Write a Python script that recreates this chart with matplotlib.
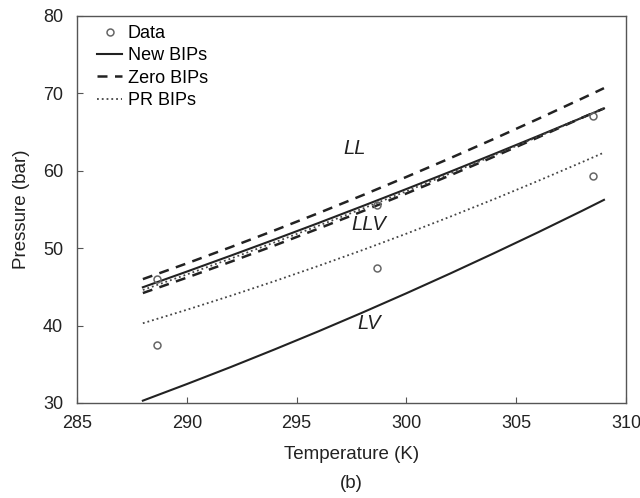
import matplotlib
matplotlib.use("Agg")
import matplotlib.pyplot as plt

plt.rcParams['font.family'] = ['Liberation Sans', 'DejaVu Sans']

T = [288, 290, 292, 294, 296, 298, 300, 302, 304, 306, 308, 309]

new_llv = [44.95, 46.97, 49.03, 51.12, 53.25, 55.43, 57.64, 59.88, 62.17, 64.49, 66.85, 68.05]
new_lv = [30.3, 32.44, 34.64, 36.92, 39.26, 41.68, 44.17, 46.73, 49.36, 52.05, 54.82, 56.24]
zero_upper = [46.0, 48.03, 50.13, 52.30, 54.53, 56.83, 59.20, 61.63, 64.13, 66.70, 69.33, 70.67]
zero_lower = [44.2, 46.19, 48.24, 50.35, 52.53, 54.76, 57.06, 59.41, 61.83, 64.31, 66.85, 68.05]
pr_upper = [44.6, 46.6, 48.65, 50.75, 52.9, 55.1, 57.35, 59.65, 62.0, 64.4, 66.85, 68.05]
pr_lower = [40.3, 42.04, 43.85, 45.74, 47.71, 49.75, 51.87, 54.07, 56.34, 58.69, 61.11, 62.35]

data_T = [288.66, 288.66, 298.65, 298.65, 308.5, 308.5]
data_P = [46.0, 37.5, 55.6, 47.4, 67.1, 59.3]

fig = plt.figure(figsize=(6.4, 4.98), dpi=100)
ax = fig.add_axes([0.1203, 0.1908, 0.8577, 0.7772])

lc = '#222222'
ax.plot(data_T, data_P, 'o', ms=5, mfc='none', mec='#666666', mew=1.1, label='Data', zorder=5)
ax.plot(T, new_llv, '-', color=lc, lw=1.5, label='New BIPs')
ax.plot(T, zero_upper, '--', color=lc, lw=1.8, dashes=(4, 3), label='Zero BIPs')
ax.plot(T, pr_lower, ':', color='#444444', lw=1.3, label='PR BIPs')
ax.plot(T, new_lv, '-', color=lc, lw=1.5)
ax.plot(T, zero_lower, '--', color=lc, lw=1.8, dashes=(4, 3))
ax.plot(T, pr_upper, ':', color='#444444', lw=1.3)

ax.set_xlim(285, 310)
ax.set_ylim(30, 80)
ax.set_xticks([285, 290, 295, 300, 305, 310])
ax.set_yticks([30, 40, 50, 60, 70, 80])
ax.tick_params(direction='in', length=4, labelsize=13, color='#555555', labelcolor='#222222')
ax.tick_params(axis='y', pad=10)
ax.tick_params(axis='x', pad=9)
for s in ax.spines.values():
    s.set_color('#555555')
    s.set_linewidth(1.0)

ax.text(297.66, 62.9, 'LL', fontsize=14.5, style='italic', ha='center', va='center', color='#222222')
ax.text(298.3, 53.1, 'LLV', fontsize=14.5, style='italic', ha='center', va='center', color='#222222')
ax.text(298.3, 40.3, 'LV', fontsize=14.5, style='italic', ha='center', va='center', color='#222222')

ax.set_xlabel('Temperature (K)', fontsize=13.5, color='#222222', labelpad=10)
ax.set_ylabel('Pressure (bar)', fontsize=13.5, color='#222222', labelpad=9)
fig.text(0.5 * (0.1203 + 0.978), 1 - 483 / 498, '(b)', fontsize=13.5, ha='center', va='center', color='#222222')

leg = ax.legend(loc='upper left', frameon=False, fontsize=13, handlelength=1.4,
                handletextpad=0.3, labelspacing=0.3, borderaxespad=0.1,
                bbox_to_anchor=(0.02, 1.0))

fig.savefig('out.png', dpi=100)
